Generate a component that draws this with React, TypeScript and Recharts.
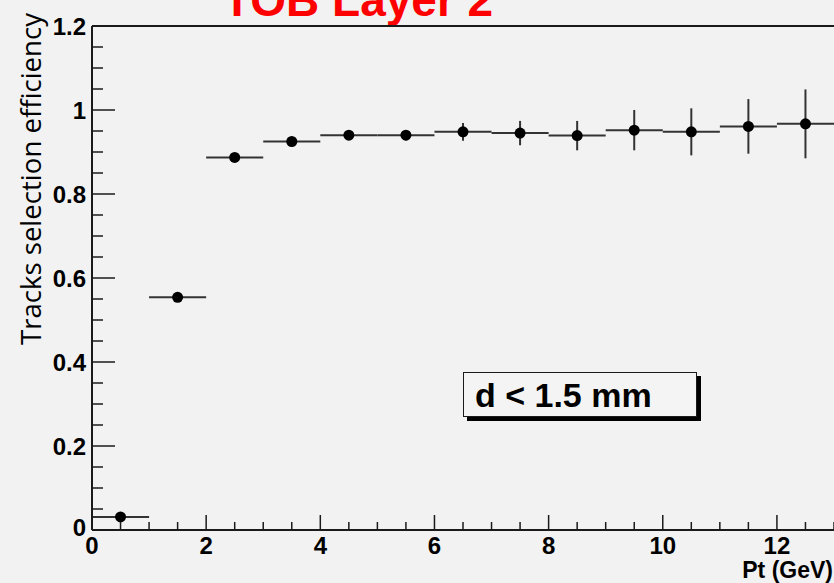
import { ComposedChart, Scatter, XAxis, YAxis, ErrorBar, ReferenceLine } from "recharts";

// bin centres (GeV) and measured efficiency
const ptBins = [0.5, 1.5, 2.5, 3.5, 4.5, 5.5, 6.5, 7.5, 8.5, 9.5, 10.5, 11.5, 12.5];
const efficiency = [0.031, 0.554, 0.887, 0.925, 0.94, 0.94, 0.948, 0.945, 0.939, 0.952, 0.948, 0.961, 0.967];
const effError = [0.003, 0.005, 0.006, 0.007, 0.009, 0.012, 0.021, 0.029, 0.035, 0.048, 0.056, 0.065, 0.082];
const binHalfWidth = [0.5, 0.5, 0.5, 0.5, 0.5, 0.5, 0.5, 0.5, 0.5, 0.5, 0.5, 0.5, 0.5];

const xTicks = [0, 0.5, 1, 1.5, 2, 2.5, 3, 3.5, 4, 4.5, 5, 5.5, 6, 6.5, 7, 7.5, 8, 8.5, 9, 9.5, 10, 10.5, 11, 11.5, 12, 12.5, 13];
const xMajor = [0, 2, 4, 6, 8, 10, 12];
const yTicks = [0, 0.05, 0.1, 0.15, 0.2, 0.25, 0.3, 0.35, 0.4, 0.45, 0.5, 0.55, 0.6, 0.65, 0.7, 0.75, 0.8, 0.85, 0.9, 0.95, 1, 1.05, 1.1, 1.15, 1.2];
const yMajor = [0, 0.2, 0.4, 0.6, 0.8, 1, 1.2];

const data = ptBins.map((x, i) => ({
  x,
  y: efficiency[i],
  yErr: effError[i],
  xErr: binHalfWidth[i],
}));

const INK = "#1a1a1a";
const BG = "#f2f2f2";
const FONT = "'Liberation Sans', Arial, sans-serif";

function YTick(props: any) {
  const { x, y, payload } = props;
  const v = payload.value;
  const major = yMajor.includes(v);
  return (
    <g>
      <line x1={x} x2={x + (major ? 23 : 11)} y1={y} y2={y} stroke={INK} strokeWidth={1.5} />
      {major && (
        <text
          x={x - 6}
          y={v === 0 ? y - 3 : y}
          dy="0.36em"
          textAnchor="end"
          fontFamily={FONT}
          fontWeight="bold"
          fontSize={24}
          fill="#000"
        >
          {String(v)}
        </text>
      )}
    </g>
  );
}

function XTick(props: any) {
  const { x, y, payload } = props;
  const v = payload.value;
  const major = xMajor.includes(v);
  return (
    <g>
      <line x1={x} x2={x} y1={y} y2={y - (major ? 15 : 8)} stroke={INK} strokeWidth={1.5} />
      {major && (
        <text
          x={x}
          y={y + 7}
          dy="0.72em"
          textAnchor="middle"
          fontFamily={FONT}
          fontWeight="bold"
          fontSize={24}
          fill="#000"
        >
          {String(v)}
        </text>
      )}
    </g>
  );
}

const dot = (props: any) => <circle cx={props.cx} cy={props.cy} r={5.5} fill="#000" />;

export default function App() {
  return (
    <div
      style={{
        position: "absolute",
        left: 0,
        top: 0,
        width: 834,
        height: 583,
        overflow: "hidden",
        background: BG,
      }}
    >
      <div
        style={{
          position: "absolute",
          left: 223,
          top: -23,
          fontFamily: FONT,
          fontWeight: "bold",
          fontSize: 46,
          lineHeight: "46px",
          color: "#ff0000",
          whiteSpace: "nowrap",
        }}
      >
        TOB Layer 2
      </div>
      <ComposedChart
        width={834}
        height={583}
        data={data}
        margin={{ top: 26, right: 0, bottom: 0, left: 0 }}
      >
        <XAxis
          type="number"
          dataKey="x"
          domain={[0, 13]}
          ticks={xTicks}
          interval={0}
          allowDataOverflow
          height={53}
          tickSize={0}
          tickMargin={0}
          tick={<XTick />}
          axisLine={{ stroke: INK, strokeWidth: 2 }}
          label={{
            content: () => (
              <text
                x={833}
                y={578}
                textAnchor="end"
                fontFamily={FONT}
                fontWeight="bold"
                fontSize={23}
                fill="#000"
              >
                Pt (GeV)
              </text>
            ),
          }}
        />
        <YAxis
          type="number"
          domain={[0, 1.2]}
          ticks={yTicks}
          interval={0}
          allowDataOverflow
          width={92}
          tickSize={0}
          tickMargin={0}
          tick={<YTick />}
          axisLine={{ stroke: INK, strokeWidth: 2 }}
          label={{
            content: () => (
              <text
                x={41}
                y={179}
                transform="rotate(-90, 41, 179)"
                textAnchor="middle"
                fontFamily="'Open Sans', sans-serif"
                fontSize={27}
                textLength={332}
                lengthAdjust="spacingAndGlyphs"
                fill="#000"
              >
                Tracks selection efficiency
              </text>
            ),
          }}
        />
        <ReferenceLine y={1.2} stroke={INK} strokeWidth={2} />
        <Scatter dataKey="y" fill="#000" shape={dot} isAnimationActive={false}>
          <ErrorBar dataKey="xErr" direction="x" width={0} stroke="#333" strokeWidth={2} isAnimationActive={false} />
          <ErrorBar dataKey="yErr" direction="y" width={0} stroke="#333" strokeWidth={2} isAnimationActive={false} />
        </Scatter>
      </ComposedChart>
      <div
        style={{
          position: "absolute",
          left: 463,
          top: 372,
          width: 234,
          height: 45,
          boxSizing: "border-box",
          border: `1.5px solid ${INK}`,
          background: "#f4f4f4",
          boxShadow: "4px 4px 0 #000",
          fontFamily: FONT,
          fontWeight: "bold",
          fontSize: 34,
          lineHeight: "44px",
          paddingLeft: 11,
          color: "#000",
          whiteSpace: "nowrap",
        }}
      >
        d &lt; 1.5 mm
      </div>
    </div>
  );
}
